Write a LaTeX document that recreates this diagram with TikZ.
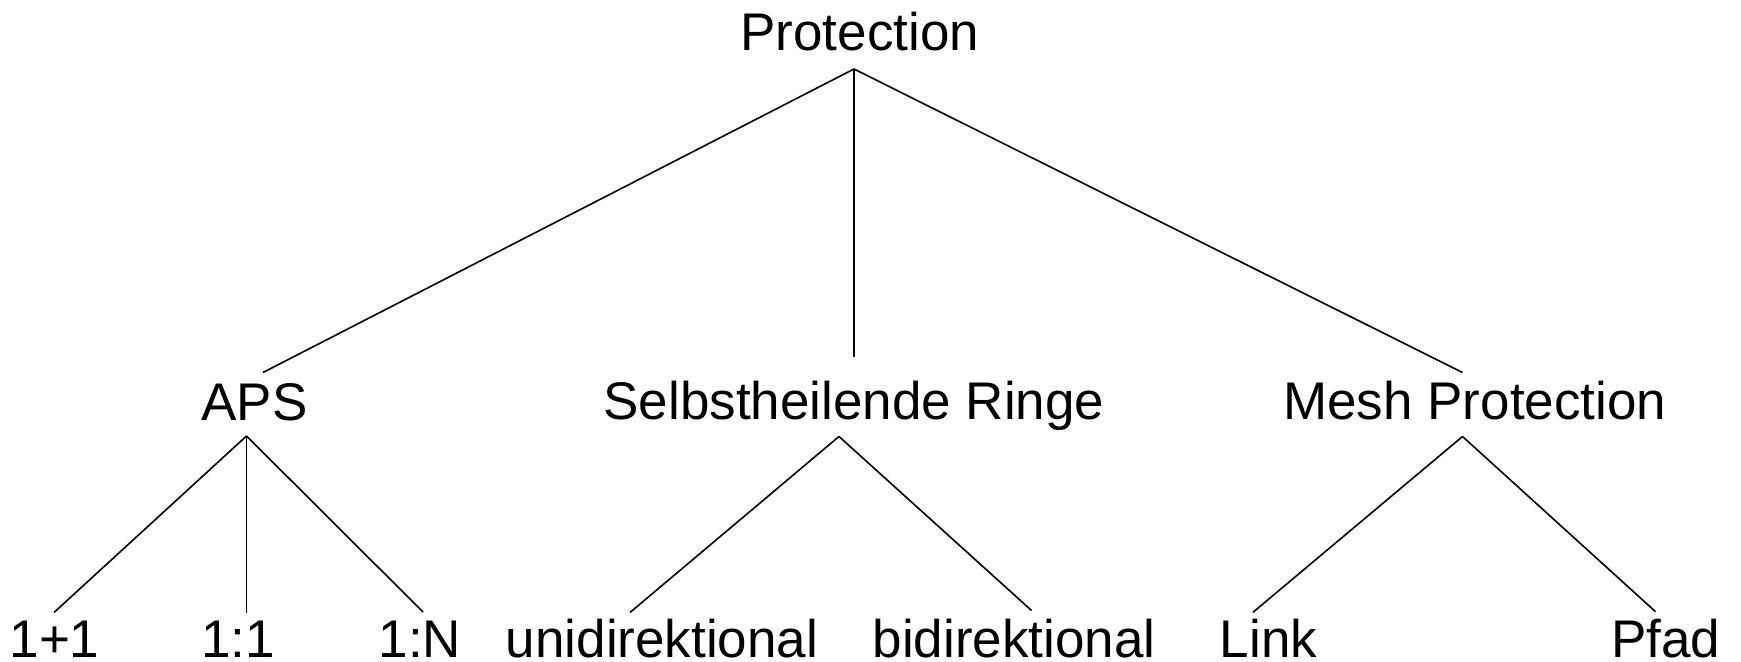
\documentclass[tikz,border=0pt]{standalone}
\usepackage{fontspec}
\setmainfont{Liberation Sans}
\begin{document}
\begin{tikzpicture}[x=0.5pt,y=-0.5pt]
		\tikzstyle{every node}+=[inner sep=0pt,anchor=base,font=\fontsize{26.5}{30}\selectfont]
		\tikzstyle{branch}=[black,line width=0.8pt]
		\useasboundingbox (0,0) rectangle (1741,662);
		\node (prot) at (859.7,50.7) {Protection};
		\node (aps) at (254.5,420.5) {APS};
		\node (ringe) at (854,420) {Selbstheilende Ringe};
		\node (mesh) at (1474.8,420) {Mesh Protection};
		\node (plus) at (54.5,657) {1+1};
		\node (eins) at (238,657) {1:1};
		\node (viele) at (420,657) {1:N};
		\node (uni) at (662,657) {unidirektional};
		\node (bi) at (1014,657) {bidirektional};
		\node (link) at (1268.5,657) {Link};
		\node (pfad) at (1665.5,657) {Pfad};
		\coordinate (prot-out) at (854,69);
		\coordinate (aps-in) at (263,372.5);
		\coordinate (aps-out) at (246.5,436);
		\coordinate (ringe-in) at (854,357.5);
		\coordinate (ringe-out) at (839,436.5);
		\coordinate (mesh-in) at (1462.5,372.5);
		\coordinate (mesh-out) at (1462.5,436.5);
		\coordinate (plus-in) at (54,612.5);
		\coordinate (eins-in) at (246.5,613);
		\coordinate (viele-in) at (423,612);
		\coordinate (uni-in) at (630,612.5);
		\coordinate (bi-in) at (1031.5,610.5);
		\coordinate (link-in) at (1253,612.3);
		\coordinate (pfad-in) at (1655.5,611.7);
		\draw [branch] (prot-out) -- (aps-in);
		\draw [branch] (prot-out) -- (ringe-in);
		\draw [branch] (prot-out) -- (mesh-in);
		\draw [branch] (aps-out) -- (plus-in);
		\draw [branch] (aps-out) -- (eins-in);
		\draw [branch] (aps-out) -- (viele-in);
		\draw [branch] (ringe-out) -- (uni-in);
		\draw [branch] (ringe-out) -- (bi-in);
		\draw [branch] (mesh-out) -- (link-in);
		\draw [branch] (mesh-out) -- (pfad-in);
	\end{tikzpicture}
\end{document}
